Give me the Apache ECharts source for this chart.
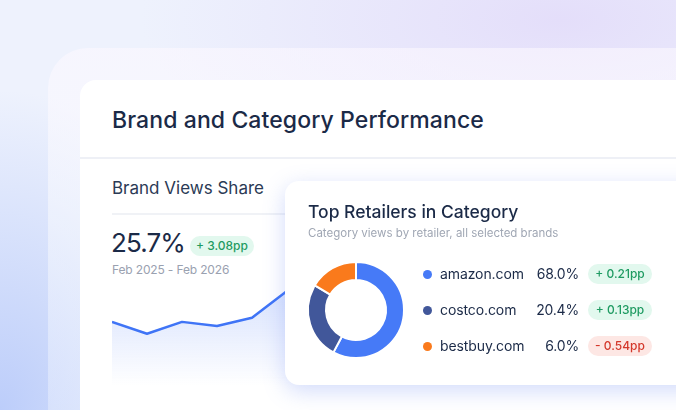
<!DOCTYPE html>
<html>
<head>
<meta charset="utf-8">
<script src="https://cdn.jsdelivr.net/npm/echarts@6/dist/echarts.min.js"></script>
<style>
  html, body { margin: 0; padding: 0; }
  body {
    width: 676px; height: 410px; overflow: hidden; position: relative;
    font-family: Inter, "Noto Sans", sans-serif; color: #1b2a47;
    background:
      radial-gradient(ellipse 240px 320px at 0px 410px, #bccdfa 0%, rgba(188,205,250,0) 100%),
      radial-gradient(ellipse 420px 160px at 560px 20px, #e4defa 0%, rgba(228,222,250,0) 100%),
      #eef2fd;
  }
  .abs { position: absolute; white-space: nowrap; }
  .frame {
    left: 48px; top: 48px; width: 720px; height: 420px; border-radius: 40px;
    background: linear-gradient(180deg, rgba(252,248,255,0.6) 0%, rgba(255,255,255,0.45) 40%, rgba(240,245,255,0.35) 100%);
  }
  .card {
    left: 80px; top: 80px; width: 700px; height: 400px; border-radius: 16px;
    background: #fff;
  }
  .badge {
    height: 20px; line-height: 20px; border-radius: 10px; text-align: center;
    font-size: 12px; font-weight: 500;
  }
  .up { background: #e2f8ee; color: #1f9b62; }
  .down { background: #fde7e4; color: #d4382b; }
  .retail {
    left: 285px; top: 181px; width: 440px; height: 204px; border-radius: 14px;
    background: #fff; box-shadow: 0 6px 22px rgba(95,125,240,0.28);
  }
  .dot { width: 9px; height: 9px; border-radius: 50%; }
</style>
</head>
<body>
<div class="abs frame"></div>
<div class="abs card"></div>
<div class="abs" style="left:112px;top:105px;line-height:30px;font-size:23px;font-weight:500;letter-spacing:0.1px;">Brand and Category Performance</div>
<div class="abs" style="left:80px;top:157px;width:600px;height:2px;background:#eef0f6;"></div>
<div class="abs" style="left:112px;top:176px;line-height:24px;font-size:17px;color:#2b3a55;">Brand Views Share</div>
<div class="abs" style="left:112px;top:213px;width:200px;height:1.5px;background:#f0f2f6;"></div>
<div class="abs" id="kpi" style="left:111px;top:226px;line-height:34px;font-size:26px;letter-spacing:-0.9px;"></div>
<div class="abs badge up" id="kpiDelta" style="left:190px;top:236px;width:64px;"></div>
<div class="abs" id="period" style="left:112px;top:261px;line-height:18px;font-size:12px;letter-spacing:-0.15px;color:#9aa1b0;"></div>

<div class="abs" id="line" style="left:112px;top:200px;width:422px;height:200px;"></div>

<div class="abs retail"></div>
<div class="abs" style="left:308px;top:200px;line-height:24px;font-size:17.5px;font-weight:500;">Top Retailers in Category</div>
<div class="abs" style="left:308px;top:225px;line-height:16px;font-size:11.5px;color:#a0a7b4;">Category views by retailer, all selected brands</div>
<div class="abs" id="donut" style="left:300px;top:254px;width:112px;height:112px;"></div>
<div id="legend"></div>

<script>
// brand views share, Feb 2025 - Feb 2026 (%)
const months = ['Feb', 'Mar', 'Apr', 'May', 'Jun', 'Jul', 'Aug', 'Sep', 'Oct', 'Nov', 'Dec', 'Jan', 'Feb'];
const viewsShare = [22.6, 22.2, 22.6, 22.46, 22.74, 23.64, 24.1, 24.6, 24.9, 25.2, 25.4, 25.6, 25.7];
const shareLabel = '25.7%';
const shareDelta = '+ 3.08pp';
const periodLabel = 'Feb 2025 - Feb 2026';

// top retailers
const retailers = ['amazon.com', 'costco.com', 'bestbuy.com'];
const retailerShare = ['68.0%', '20.4%', '6.0%'];
const retailerDelta = ['+ 0.21pp', '+ 0.13pp', '- 0.54pp'];
const sliceValues = [57.8, 25.8, 16.4]; // arc sizes as drawn in the donut
const retailerColors = ['#467af7', '#41579a', '#fa7a1c'];

document.getElementById('kpi').textContent = shareLabel;
document.getElementById('kpiDelta').textContent = shareDelta;
document.getElementById('period').textContent = periodLabel;

const line = echarts.init(document.getElementById('line'));
line.setOption({
  animation: false,
  grid: { left: 0, right: 2, top: 21, bottom: 1 },
  xAxis: { type: 'category', data: months, boundaryGap: false, show: false },
  yAxis: { type: 'value', min: 20, max: 26, show: false },
  series: [{
    type: 'line',
    data: viewsShare,
    symbol: 'none',
    lineStyle: { color: '#3f74f6', width: 2.5 },
    areaStyle: {
      color: new echarts.graphic.LinearGradient(0, 0, 0, 1, [
        { offset: 0, color: 'rgba(70,118,247,0.45)' },
        { offset: 0.55, color: 'rgba(70,118,247,0.2)' },
        { offset: 0.92, color: 'rgba(70,118,247,0)' }
      ])
    }
  }]
});

const donut = echarts.init(document.getElementById('donut'));
donut.setOption({
  animation: false,
  series: [{
    type: 'pie',
    radius: [30, 48],
    center: ['50%', '50%'],
    startAngle: 90,
    label: { show: false },
    itemStyle: { borderColor: '#fff', borderWidth: 2 },
    data: retailers.map((r, i) => ({
      name: r, value: sliceValues[i], itemStyle: { color: retailerColors[i] }
    }))
  }]
});

const rowY = [274, 310, 346];
let html = '';
retailers.forEach((r, i) => {
  const y = rowY[i];
  const cls = retailerDelta[i].startsWith('-') ? 'down' : 'up';
  html += `<div class="abs dot" style="left:422.5px;top:${y - 4.5}px;background:${retailerColors[i]};"></div>`;
  html += `<div class="abs" style="left:440px;top:${y - 11}px;line-height:22px;font-size:14px;letter-spacing:-0.1px;">${r}</div>`;
  html += `<div class="abs" style="left:499px;width:80px;text-align:right;top:${y - 11}px;line-height:22px;font-size:14px;letter-spacing:-0.2px;">${retailerShare[i]}</div>`;
  html += `<div class="abs badge ${cls}" style="left:588px;top:${y - 10}px;width:64px;">${retailerDelta[i]}</div>`;
});
document.getElementById('legend').innerHTML = html;
</script>
</body>
</html>
